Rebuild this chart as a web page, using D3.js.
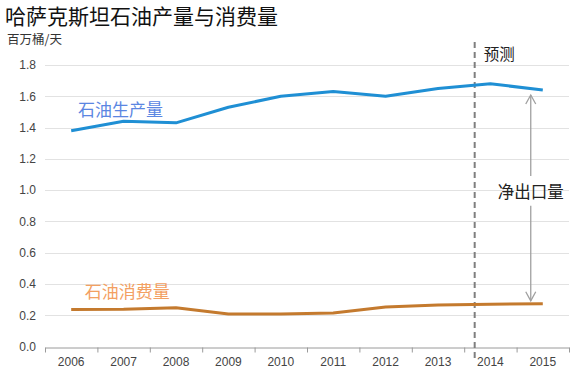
<!DOCTYPE html>
<html><head><meta charset="utf-8">
<script src="https://cdn.jsdelivr.net/npm/d3@7"></script>
<style>body{margin:0;background:#fff}svg{display:block}</style>
</head><body>
<script>
const years = [2006,2007,2008,2009,2010,2011,2012,2013,2014,2015];
const production = [1.38,1.44,1.43,1.53,1.60,1.63,1.60,1.65,1.68,1.64];
const consumption = [0.236,0.238,0.248,0.208,0.208,0.214,0.252,0.266,0.270,0.273];
const yTicks = [0,0.2,0.4,0.6,0.8,1.0,1.2,1.4,1.6,1.8];
const title = "哈萨克斯坦石油产量与消费量";
const unit = "百万桶/天";
const prodLabel = "石油生产量";
const consLabel = "石油消费量";
const forecastLabel = "预测";
const forecastYear = 2013.7;
const netLabel = "净出口量";

const W = 580, H = 374;
const cjk = "'Noto Sans CJK SC','Noto Sans',sans-serif";
const svg = d3.select("body").append("svg").attr("width", W).attr("height", H);

const x = d3.scaleLinear().domain([2005.5, 2015.5]).range([45, 569]);
const y = d3.scaleLinear().domain([0, 1.8]).range([346.5, 65]);

// title
svg.append("text").attr("x", 5).attr("y", 24).attr("font-family", cjk)
  .attr("font-size", 21).attr("fill", "#111").text(title);
svg.append("text").attr("x", 7).attr("y", 44).attr("font-family", cjk)
  .attr("font-size", 12.5).attr("fill", "#333").text(unit);

// grid
svg.append("g").selectAll("line").data(yTicks.filter(d => d > 0)).join("line")
  .attr("x1", x.range()[0]).attr("x2", x.range()[1])
  .attr("y1", d => Math.round(y(d)) + 0.5).attr("y2", d => Math.round(y(d)) + 0.5)
  .attr("stroke", "#e2e2e2").attr("stroke-width", 1);

// y axis labels
const yAxis = d3.axisLeft(y).tickValues(yTicks).tickFormat(d3.format(".1f")).tickSize(0).tickPadding(0);
const gy = svg.append("g").attr("transform", "translate(36,0)").call(yAxis);
gy.select(".domain").remove();
gy.selectAll("text").attr("font-family", "Arial, 'Liberation Sans', sans-serif")
  .attr("font-size", 12).attr("fill", "#444");

// x axis
const bounds = d3.range(2005.5, 2016, 1);
const xAxis = d3.axisBottom(x).tickValues(bounds).tickFormat("").tickSize(5).tickSizeOuter(0);
const gx = svg.append("g").attr("transform", `translate(0,${Math.round(y(0)) + 0.5})`).call(xAxis);
gx.select(".domain").attr("stroke", "#9a9a9a");
gx.selectAll(".tick line").attr("stroke", "#9a9a9a");
svg.append("g").selectAll("text").data(years).join("text")
  .attr("x", d => x(d)).attr("y", 366).attr("text-anchor", "middle")
  .attr("font-family", "Arial, 'Liberation Sans', sans-serif").attr("font-size", 12)
  .attr("fill", "#444").text(d => d);

// forecast dashed line
svg.append("line").attr("x1", x(forecastYear)).attr("x2", x(forecastYear))
  .attr("y1", 42).attr("y2", 362).attr("stroke", "#7f7f7f")
  .attr("stroke-width", 2).attr("stroke-dasharray", "6,4");
svg.append("text").attr("x", x(forecastYear) + 9).attr("y", y(1.864) + 5.5)
  .attr("font-family", cjk).attr("font-size", 15.5).attr("fill", "#222").text(forecastLabel);

// lines
const line = d3.line().x((d, i) => x(years[i])).y(d => y(d));
svg.append("path").datum(production).attr("d", line).attr("fill", "none")
  .attr("stroke", "#1f8fd4").attr("stroke-width", 3).attr("stroke-linejoin", "round");
svg.append("path").datum(consumption).attr("d", line).attr("fill", "none")
  .attr("stroke", "#c47a2e").attr("stroke-width", 3).attr("stroke-linejoin", "round");

// series labels
svg.append("text").attr("x", x(2006.13)).attr("y", y(1.51) + 6)
  .attr("font-family", cjk).attr("font-size", 17).attr("fill", "#5b86e2").text(prodLabel);
svg.append("text").attr("x", x(2006.26)).attr("y", y(0.35) + 6)
  .attr("font-family", cjk).attr("font-size", 17).attr("fill", "#f3a062").text(consLabel);

// net export arrow
const ax = x(2014.77);
const yTop = y(production[9]) + 5, yBot = y(consumption[9]) - 3;
const ag = svg.append("g").attr("stroke", "#a0a0a0").attr("stroke-width", 1.3).attr("fill", "none");
ag.append("line").attr("x1", ax).attr("x2", ax).attr("y1", yTop).attr("y2", y(1.09));
ag.append("line").attr("x1", ax).attr("x2", ax).attr("y1", y(0.9)).attr("y2", yBot);
ag.append("path").attr("d", `M${ax-5},${yTop+9}L${ax},${yTop}L${ax+5},${yTop+9}`);
ag.append("path").attr("d", `M${ax-5},${yBot-9}L${ax},${yBot}L${ax+5},${yBot-9}`);
svg.append("text").attr("x", ax).attr("y", y(0.985) + 6).attr("text-anchor", "middle")
  .attr("font-family", cjk).attr("font-size", 16.5).attr("fill", "#222").text(netLabel);
</script>
</body></html>
